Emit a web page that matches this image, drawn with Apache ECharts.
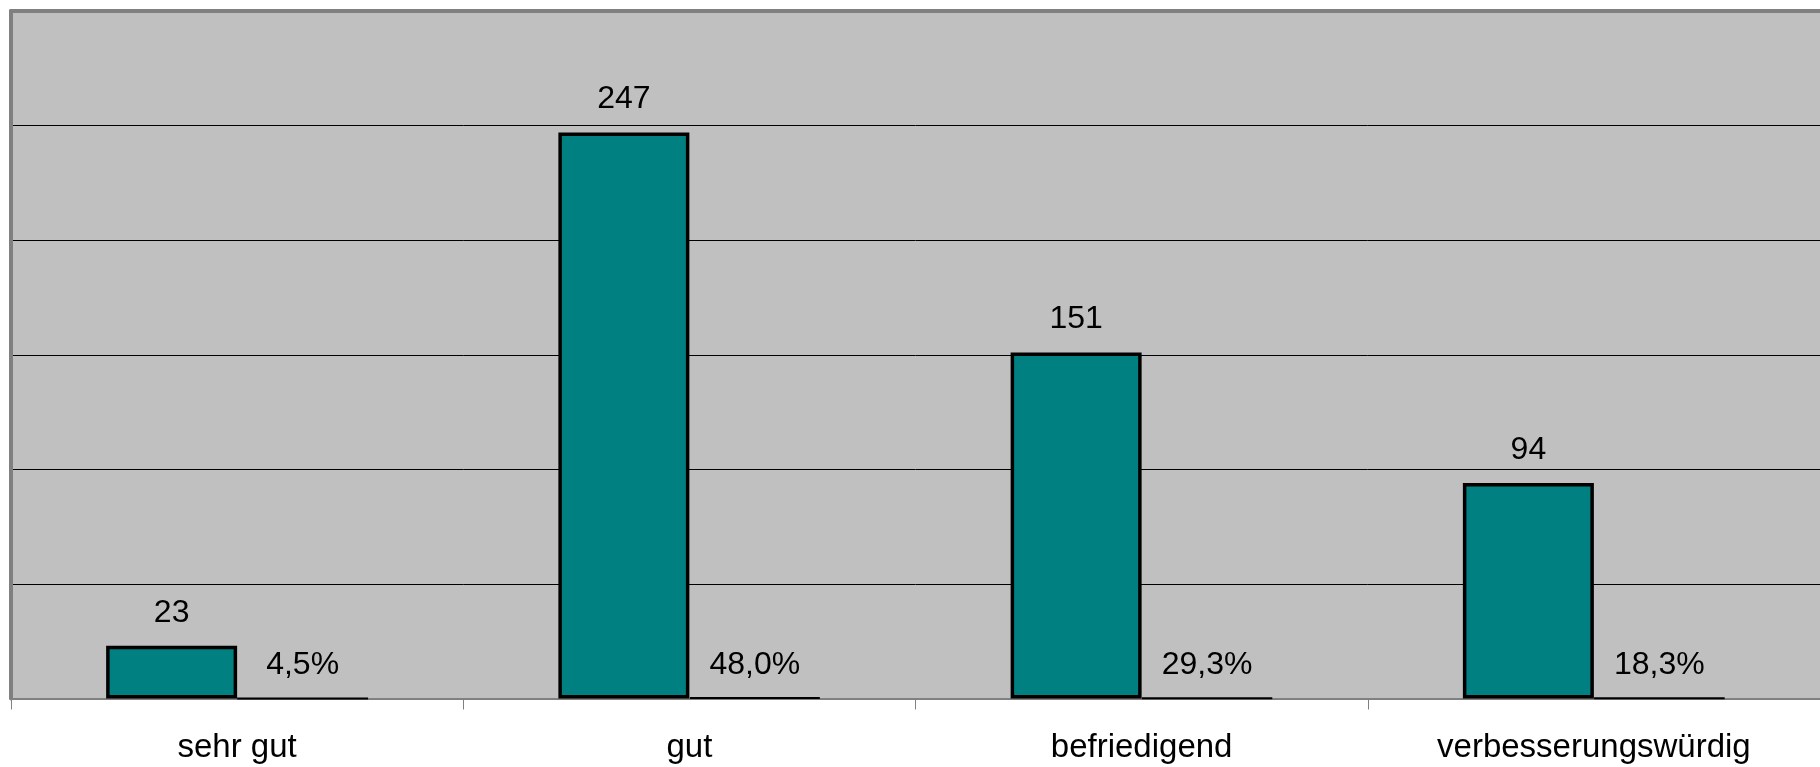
<!DOCTYPE html>
<html>
<head>
<meta charset="utf-8">
<script src="https://cdn.jsdelivr.net/npm/echarts@6/dist/echarts.min.js"></script>
<style>
html,body{margin:0;padding:0;background:#fff;}
#chart{width:1820px;height:767px;}
</style>
</head>
<body>
<div id="chart"></div>
<script>
const categories = ['sehr gut', 'gut', 'befriedigend', 'verbesserungswürdig'];
const counts = [23, 247, 151, 94];
const percents = [4.5, 48.0, 29.3, 18.3];
const yMin = 0, yMax = 300, yInterval = 50;

const chart = echarts.init(document.getElementById('chart'));
const fontFamily = '"Liberation Sans", Arial, sans-serif';
chart.setOption({
  animation: false,
  backgroundColor: '#ffffff',
  grid: {
    left: 11, top: 11, right: -1, bottom: 68.5,
    show: true, backgroundColor: '#c0c0c0', borderWidth: 0
  },
  xAxis: [{
    type: 'category',
    data: categories,
    position: 'bottom',
    axisLine: { show: true, lineStyle: { color: '#808080', width: 2 } },
    axisTick: { show: true, length: 11, lineStyle: { color: '#808080', width: 1 } },
    axisLabel: { color: '#000', fontSize: 33, fontFamily: fontFamily, margin: 33 }
  }, {
    type: 'category',
    data: categories,
    position: 'top',
    axisLine: { show: true, lineStyle: { color: '#808080', width: 4 } },
    axisTick: { show: false },
    axisLabel: { show: false }
  }],
  yAxis: {
    type: 'value',
    min: yMin, max: yMax, interval: yInterval,
    axisLine: { show: true, lineStyle: { color: '#808080', width: 4 } },
    axisTick: { show: false },
    axisLabel: { show: false },
    splitLine: { show: true, showMinLine: false, showMaxLine: false, lineStyle: { color: '#000', width: 1 } }
  },
  series: [{
    type: 'bar',
    data: counts,
    barWidth: 131,
    barGap: '0%',
    itemStyle: { color: '#008080', borderColor: '#000', borderWidth: 3.5 },
    label: {
      show: true, position: 'top', distance: 17,
      color: '#000', fontSize: 32, fontFamily: fontFamily
    }
  }, {
    type: 'bar',
    data: percents.map(p => p / 100),
    barWidth: 131,
    barGap: '0%',
    itemStyle: { color: '#993366', borderColor: '#000', borderWidth: 2 },
    label: {
      show: true, position: 'top', distance: 16,
      color: '#000', fontSize: 32, fontFamily: fontFamily,
      formatter: p => percents[p.dataIndex].toFixed(1).replace('.', ',') + '%'
    }
  }]
});
</script>
</body>
</html>
